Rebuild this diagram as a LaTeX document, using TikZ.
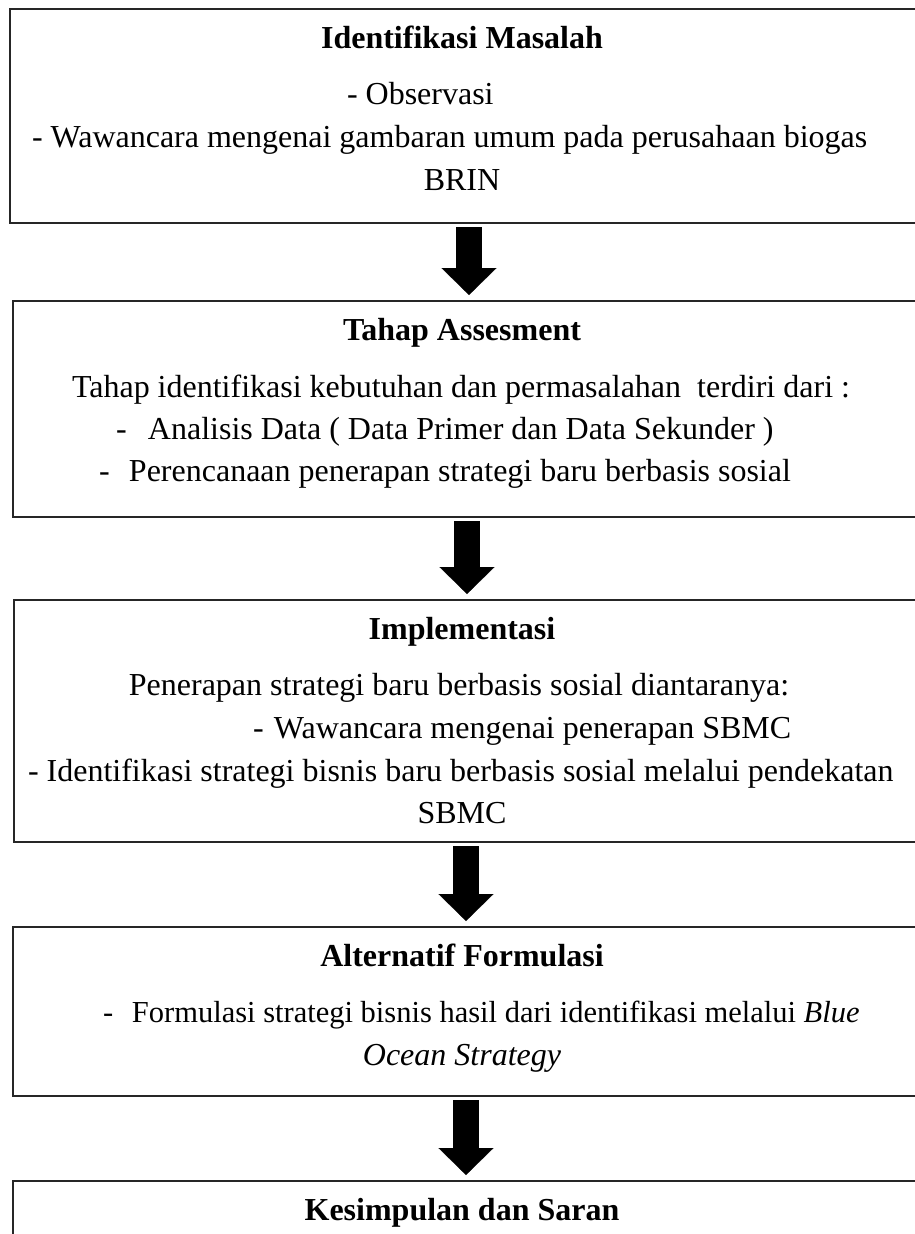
\documentclass[tikz,border=0pt]{standalone}
\usepackage{fontspec}
\setmainfont{Liberation Serif}
\usetikzlibrary{arrows.meta}
\tikzset{
  boxst/.style={draw=black!85, line width=1.5pt, inner sep=0pt, outer sep=0pt, anchor=north west, minimum width=930pt},
  txt/.style={inner sep=0pt, outer sep=0pt, font=\fontsize{32}{43}\selectfont},
  ttl/.style={txt, font=\fontsize{32}{43}\selectfont\bfseries, anchor=base},
  lft/.style={txt, anchor=base west},
  ctr/.style={txt, anchor=base},
  blockarr/.style={line width=26pt, black, shorten <=4pt, shorten >=6pt,
    -{Triangle[length=27pt, width=55pt, line width=0.1pt]}}
}
\begin{document}
\begin{tikzpicture}[x=1pt, y=-1pt]
\useasboundingbox (0,0) rectangle (915,1234);
\clip (0,0) rectangle (915,1234);
\fill[white] (0,0) rectangle (915,1234);
% boxes
\node[boxst, minimum height=214pt] (b1) at (10,9) {};
\node[boxst, minimum height=216pt] (b2) at (13,301) {};
\node[boxst, minimum height=242pt] (b3) at (14,600) {};
\node[boxst, minimum height=169pt] (b4) at (13,927) {};
\node[boxst, minimum height=120pt] (b5) at (13,1181) {};
% box 1
\node[ttl] (t1) at (462,48) {Identifikasi Masalah};
\node[lft] (l11) at (347,104) {- Observasi};
\node[lft] (l12) at (32,147) {- Wawancara mengenai gambaran umum pada perusahaan biogas};
\node[ctr] (l13) at (462,190) {BRIN};
% box 2
\node[ttl] (t2) at (462,340) {Tahap Assesment};
\node[lft] (l21) at (72,397) {Tahap identifikasi kebutuhan dan permasalahan~ terdiri dari :};
\node[lft] (l22) at (116,439) {\makebox[32pt][l]{-}Analisis Data ( Data Primer dan Data Sekunder )};
\node[lft] (l23) at (99,481) {\makebox[30pt][l]{-}Perencanaan penerapan strategi baru berbasis sosial};
% box 3
\node[ttl] (t3) at (462,639) {Implementasi};
\node[ctr] (l31) at (459,695) {Penerapan strategi baru berbasis sosial diantaranya:};
\node[lft] (l32) at (253,738) {\makebox[21pt][l]{-}Wawancara mengenai penerapan SBMC};
\node[lft] (l33) at (28,781) {- Identifikasi strategi bisnis baru berbasis sosial melalui pendekatan};
\node[ctr] (l34) at (462,823) {SBMC};
% box 4
\node[ttl] (t4) at (462,966) {Alternatif Formulasi};
\node[lft, font=\fontsize{30.5}{43}\selectfont] (l41) at (103,1022) {\makebox[29pt][l]{-}Formulasi strategi bisnis hasil dari identifikasi melalui \textit{Blue}};
\node[ctr] (l42) at (462,1065) {\textit{Ocean Strategy}};
% box 5
\node[ttl] (t5) at (462,1220) {Kesimpulan dan Saran};
% arrows
\coordinate (a1) at (469,0);
\coordinate (a2) at (467,0);
\coordinate (a3) at (466,0);
\coordinate (a4) at (466,0);
\draw[blockarr] (b1.south -| a1) -- (b2.north -| a1);
\draw[blockarr] (b2.south -| a2) -- (b3.north -| a2);
\draw[blockarr] (b3.south -| a3) -- (b4.north -| a3);
\draw[blockarr] (b4.south -| a4) -- (b5.north -| a4);
\end{tikzpicture}
\end{document}
